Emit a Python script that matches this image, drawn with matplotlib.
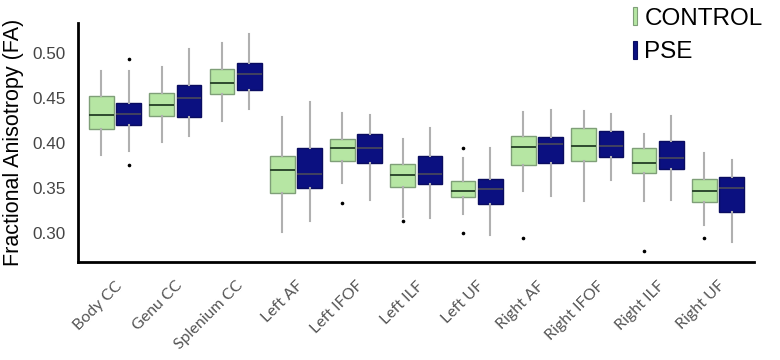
import numpy as np
import matplotlib
matplotlib.use('Agg')
import matplotlib.pyplot as plt
from matplotlib.patches import Patch

# tracts and FA box statistics
tracts = ['Body CC', 'Genu CC', 'Splenium CC', 'Left AF', 'Left IFOF', 'Left ILF',
          'Left UF', 'Right AF', 'Right IFOF', 'Right ILF', 'Right UF']

ctrl_q1  = [0.416, 0.430, 0.455, 0.345, 0.380, 0.351, 0.340, 0.376, 0.380, 0.367, 0.334]
ctrl_med = [0.431, 0.442, 0.467, 0.370, 0.394, 0.365, 0.347, 0.396, 0.397, 0.378, 0.347]
ctrl_q3  = [0.452, 0.456, 0.482, 0.386, 0.404, 0.377, 0.358, 0.408, 0.417, 0.394, 0.360]
ctrl_lo  = [0.387, 0.401, 0.424, 0.301, 0.356, 0.318, 0.321, 0.347, 0.336, 0.336, 0.309]
ctrl_hi  = [0.480, 0.485, 0.511, 0.429, 0.433, 0.405, 0.383, 0.434, 0.436, 0.410, 0.389]
ctrl_out = [[], [], [], [], [0.333], [0.313], [0.394, 0.300], [0.294], [], [0.280], [0.294]]

pse_q1  = [0.420, 0.429, 0.459, 0.350, 0.378, 0.354, 0.332, 0.378, 0.384, 0.371, 0.323]
pse_med = [0.432, 0.450, 0.477, 0.366, 0.395, 0.366, 0.349, 0.399, 0.397, 0.383, 0.350]
pse_q3  = [0.445, 0.464, 0.489, 0.394, 0.410, 0.386, 0.360, 0.407, 0.413, 0.402, 0.362]
pse_lo  = [0.391, 0.408, 0.438, 0.313, 0.337, 0.317, 0.298, 0.341, 0.359, 0.337, 0.290]
pse_hi  = [0.480, 0.504, 0.521, 0.446, 0.431, 0.417, 0.395, 0.437, 0.432, 0.430, 0.381]
pse_out = [[0.493, 0.376], [], [], [], [], [], [], [], [], [], []]

green = '#b6e6a3'
navy = '#0b1080'


def stats(q1, med, q3, lo, hi, out):
    return [dict(q1=a, med=b, q3=c, whislo=d, whishi=e, fliers=f)
            for a, b, c, d, e, f in zip(q1, med, q3, lo, hi, out)]


fig = plt.figure(figsize=(7.8, 3.6), dpi=100)
ax = fig.add_axes([0.1, 0.272, 0.8667, 0.664])

x = np.arange(len(tracts))
off = 0.227
w = 0.41
common = dict(widths=w, patch_artist=True, showcaps=False,
              whiskerprops=dict(color='#b0b0b0', lw=1.5),
              flierprops=dict(marker='o', markersize=1.6, markerfacecolor='black',
                              markeredgecolor='black'))

ax.bxp(stats(ctrl_q1, ctrl_med, ctrl_q3, ctrl_lo, ctrl_hi, ctrl_out), positions=x - off,
       boxprops=dict(facecolor=green, edgecolor='#7f9f78', lw=1.0),
       medianprops=dict(color='#2e4a2e', lw=1.4), **common)
ax.bxp(stats(pse_q1, pse_med, pse_q3, pse_lo, pse_hi, pse_out), positions=x + off,
       boxprops=dict(facecolor=navy, edgecolor='#0a0c60', lw=1.0),
       medianprops=dict(color='#4a4a5a', lw=1.2), **common)

ax.set_xlim(-0.614, 10.6)
ax.set_ylim(0.2678, 0.5333)
ax.set_yticks([0.30, 0.35, 0.40, 0.45, 0.50])
ax.set_yticklabels(['0.30', '0.35', '0.40', '0.45', '0.50'],
                   fontfamily='Liberation Sans', fontsize=12.3, color='#444444')
ax.set_xticks(x)
ax.set_xticklabels(tracts, rotation=45, ha='right', va='top', rotation_mode='anchor',
                   fontfamily='Lato', fontsize=11.5, color='#555555')
ax.tick_params(axis='y', length=0, pad=9)
ax.tick_params(axis='x', length=0, pad=12)

for s in ['top', 'right']:
    ax.spines[s].set_visible(False)
for s in ['left', 'bottom']:
    ax.spines[s].set_linewidth(2)
    ax.spines[s].set_color('black')

ax.set_ylabel('Fractional Anisotropy (FA)', fontfamily='Liberation Sans',
              fontsize=15.5, color='black', labelpad=6)

handles = [Patch(facecolor=green, edgecolor='#7f9f78', lw=0.8),
           Patch(facecolor=navy, edgecolor='#0a0c60', lw=0.8)]
fig.legend(handles, ['CONTROL', 'PSE'], loc='upper left', bbox_to_anchor=(0.783, 1.04),
           frameon=False, handlelength=0.18, handleheight=0.75, handletextpad=0.3,
           labelspacing=0.45, prop=dict(family='Liberation Sans', size=17.5))

plt.savefig('out.png', dpi=100)
